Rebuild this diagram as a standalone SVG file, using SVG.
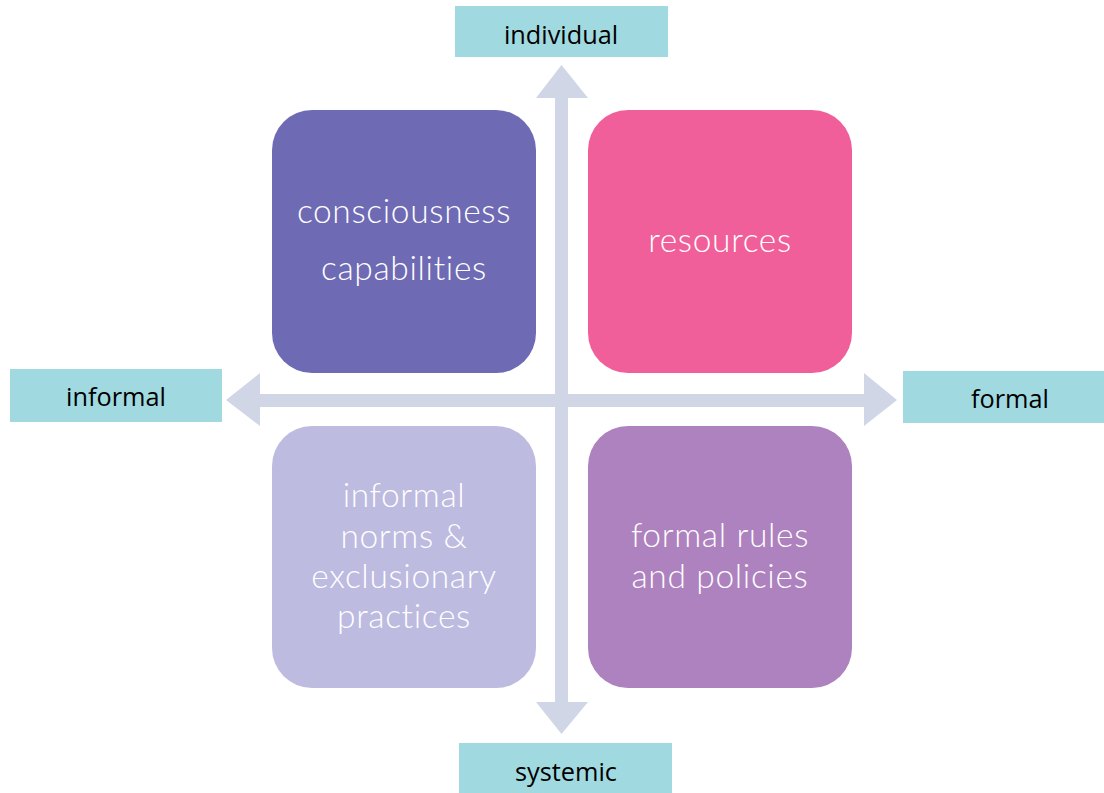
<svg xmlns="http://www.w3.org/2000/svg" width="1104" height="793" viewBox="0 0 1104 793">
<style>
.lbl{fill:#A0DAE0}
.lt{font-family:"Open Sans","Liberation Sans",sans-serif;font-size:25.3px;fill:#000;text-anchor:middle}
.bt{font-family:Lato,"Open Sans",sans-serif;font-weight:300;font-size:33.5px;letter-spacing:0.65px;fill:#fff;text-anchor:middle}
.arr{fill:#D0D6E6}
</style>
<rect width="1104" height="793" fill="#fff"/>
<g id="connectors">
<polygon class="arr" points="555,98 536,98 561.5,65 588,98 568,98 568,702 588,702 561.5,734 536,702 555,702"/>
<polygon class="arr" points="260,394 260,373 226,400 260,426 260,407 864,407 864,426 897,400 864,373 864,394"/>
</g>
<g id="consciousness">
<rect x="272" y="110" width="264" height="263" rx="40" fill="#6E6BB4"/>
<text class="bt" x="404" y="223">consciousness</text>
<text class="bt" x="404" y="280">capabilities</text>
</g>
<g id="resources">
<rect x="588" y="110" width="264" height="263" rx="40" fill="#F05F99"/>
<text class="bt" x="720" y="252">resources</text>
</g>
<g id="informal-norms">
<rect x="272" y="426" width="264" height="262" rx="40" fill="#BDBBDF"/>
<text class="bt" x="404" y="507">informal</text>
<text class="bt" x="404" y="548">norms &amp;</text>
<text class="bt" x="404" y="588">exclusionary</text>
<text class="bt" x="404" y="628">practices</text>
</g>
<g id="formal-rules">
<rect x="588" y="426" width="264" height="262" rx="40" fill="#AD82BE"/>
<text class="bt" x="720" y="547">formal rules</text>
<text class="bt" x="720" y="588">and policies</text>
</g>
<g id="individual">
<rect class="lbl" x="455" y="6" width="213" height="51"/>
<text class="lt" x="561" y="44">individual</text>
</g>
<g id="informal">
<rect class="lbl" x="10" y="369" width="212" height="53"/>
<text class="lt" x="116" y="406">informal</text>
</g>
<g id="formal">
<rect class="lbl" x="903" y="371" width="201" height="52"/>
<text class="lt" x="1010" y="408">formal</text>
</g>
<g id="systemic">
<rect class="lbl" x="459" y="743" width="213" height="50"/>
<text class="lt" x="566" y="781">systemic</text>
</g>
</svg>
